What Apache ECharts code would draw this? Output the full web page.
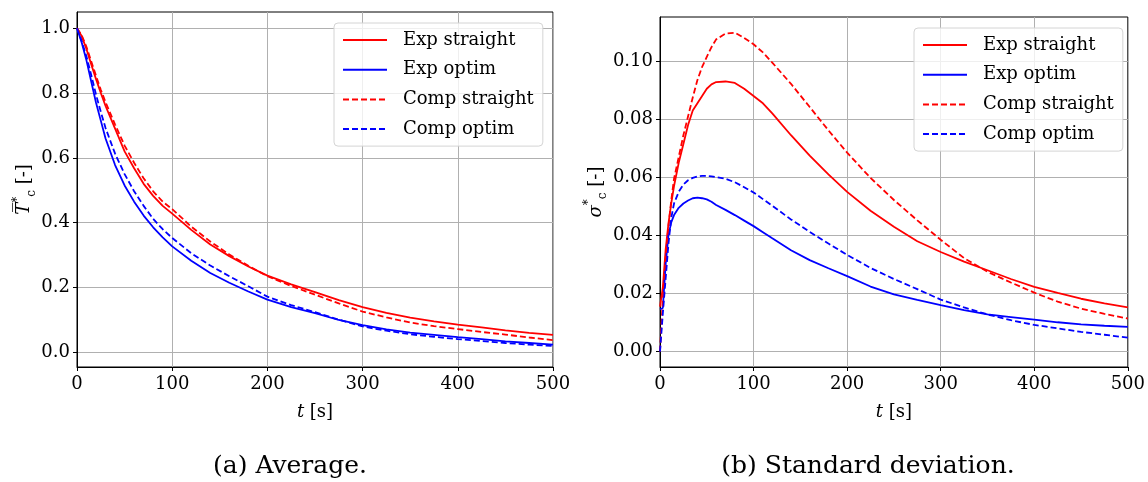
<!DOCTYPE html>
<html><head><meta charset="utf-8">
<script src="https://cdn.jsdelivr.net/npm/echarts@6/dist/echarts.min.js"></script>
<style>html,body{margin:0;padding:0;background:#fff}#c{width:1148px;height:482px}</style>
</head><body><div id="c"></div>
<script>
// ---- data ----
const seriesNames = ['Exp straight', 'Exp optim', 'Comp straight', 'Comp optim'];
const captions = ['(a) Average.', '(b) Standard deviation.'];
const xTicks = [0, 100, 200, 300, 400, 500];
const yTicksLeft = [0, 0.2, 0.4, 0.6, 0.8, 1.0];
const yTicksRight = [0, 0.02, 0.04, 0.06, 0.08, 0.10];

const tLeft = [0,5,10,15,20,25,30,40,50,60,70,80,90,100,120,140,160,180,200,225,250,275,300,325,350,375,400,425,450,475,500];
const avgExpStraight  = [1.0,0.975,0.935,0.888,0.843,0.8,0.76,0.69,0.62,0.568,0.52,0.483,0.452,0.428,0.378,0.333,0.297,0.265,0.237,0.21,0.186,0.161,0.14,0.122,0.107,0.096,0.086,0.077,0.068,0.06,0.054];
const avgExpOptim     = [1.0,0.955,0.9,0.835,0.77,0.715,0.66,0.578,0.515,0.465,0.422,0.386,0.355,0.327,0.283,0.245,0.215,0.188,0.163,0.14,0.121,0.1,0.084,0.071,0.061,0.054,0.047,0.041,0.034,0.029,0.024];
const avgCompStraight = [1.0,0.978,0.942,0.897,0.853,0.81,0.772,0.703,0.638,0.585,0.537,0.497,0.465,0.442,0.388,0.342,0.302,0.267,0.235,0.205,0.178,0.151,0.126,0.108,0.092,0.081,0.072,0.063,0.055,0.046,0.038];
const avgCompOptim    = [1.0,0.96,0.912,0.855,0.795,0.742,0.692,0.613,0.55,0.497,0.452,0.412,0.38,0.353,0.306,0.268,0.235,0.204,0.172,0.146,0.124,0.101,0.08,0.067,0.056,0.048,0.041,0.035,0.029,0.024,0.02];

const tRight = [0,3,6,9,12,15,20,25,30,35,40,45,50,55,60,70,80,90,100,110,120,140,160,180,200,225,250,275,300,325,350,375,400,425,450,475,500];
const stdExpStraight  = [0.0155,0.022,0.035,0.044,0.051,0.057,0.065,0.0715,0.078,0.083,0.0855,0.088,0.0905,0.092,0.0928,0.093,0.0925,0.0905,0.088,0.0855,0.082,0.0745,0.0675,0.061,0.055,0.0485,0.043,0.038,0.0343,0.031,0.028,0.025,0.0223,0.0202,0.0182,0.0166,0.0152];
const stdExpOptim     = [0.0145,0.015,0.03,0.04,0.0445,0.047,0.0495,0.051,0.052,0.0528,0.053,0.0528,0.0524,0.0516,0.0505,0.0488,0.047,0.0451,0.0432,0.0411,0.039,0.0349,0.0315,0.0287,0.026,0.0224,0.0197,0.0178,0.016,0.0143,0.0128,0.0119,0.011,0.0101,0.0094,0.0089,0.0085];
const stdCompStraight = [0,0.018,0.032,0.043,0.052,0.0595,0.067,0.0745,0.081,0.0875,0.0935,0.098,0.1015,0.1048,0.1075,0.1095,0.1098,0.108,0.1058,0.103,0.0995,0.0922,0.0842,0.0762,0.0685,0.0598,0.0522,0.0452,0.0385,0.0322,0.0275,0.0238,0.0203,0.0172,0.0148,0.013,0.0114];
const stdCompOptim    = [0,0.013,0.025,0.037,0.046,0.051,0.055,0.0575,0.059,0.0598,0.0603,0.0605,0.0605,0.0603,0.0601,0.0595,0.0583,0.0566,0.0548,0.0525,0.0502,0.0455,0.0412,0.0372,0.0333,0.0288,0.025,0.0215,0.0179,0.0152,0.0128,0.0108,0.0092,0.008,0.0068,0.0058,0.0048];

// ---- styling ----
const FONT = 'DejaVu Serif';
const FS = 18;
const RED = '#ff0000', BLUE = '#0000ff';
const styles = [
  {color: RED, type: 'solid'},
  {color: BLUE, type: 'solid'},
  {color: RED, type: [6, 3]},
  {color: BLUE, type: [6, 3]}
];
const zip = (t, v) => t.map((x, i) => [x, v[i]]);

function mkSeries(gi, t, arrs) {
  return arrs.map((a, k) => ({
    name: seriesNames[k], type: 'line', xAxisIndex: gi, yAxisIndex: gi,
    data: zip(t, a), symbol: 'none', showSymbol: false, clip: true,
    lineStyle: {color: styles[k].color, width: 1.8, type: styles[k].type},
    itemStyle: {color: styles[k].color}, animation: false, z: 3 + k
  }));
}
function xAx(gi) {
  return {
    type: 'value', gridIndex: gi, min: 0, max: 500, interval: 100,
    axisLine: {show: true, onZero: false, lineStyle: {color: '#000', width: 1}},
    axisTick: {show: true, length: 4, lineStyle: {color: '#000'}},
    axisLabel: {color: '#000', fontFamily: FONT, fontSize: FS, margin: 8},
    splitLine: {show: true, lineStyle: {color: '#b0b0b0', width: 1}},
    name: '{i|t} [s]', nameLocation: 'middle', nameGap: 36,
    nameTextStyle: {color: '#000', fontFamily: FONT, fontSize: FS,
      rich: {i: {fontStyle: 'italic', fontFamily: FONT, fontSize: FS, color: '#000'}}}
  };
}
function yAx(gi, min, max, ticks, dec, name, gap) {
  return {
    type: 'value', gridIndex: gi, min: min, max: max,
    axisLine: {show: true, onZero: false, lineStyle: {color: '#000', width: 1}},
    axisTick: {show: true, length: 4, lineStyle: {color: '#000'}, customValues: ticks},
    axisLabel: {color: '#000', fontFamily: FONT, fontSize: FS, margin: 7, customValues: ticks,
      formatter: v => Number(v).toFixed(dec)},
    splitLine: {show: true, lineStyle: {color: '#b0b0b0', width: 1}},
    name: name, nameLocation: 'middle', nameRotate: 90, nameGap: gap,
    nameTextStyle: {color: '#000', fontFamily: FONT, fontSize: FS, lineHeight: 26,
      rich: {
        it: {fontStyle: 'italic', fontFamily: FONT, fontSize: FS, color: '#000', lineHeight: 26},
        sup: {fontFamily: FONT, fontSize: 12, color: '#000', lineHeight: 26, verticalAlign: 'top', padding: [0,0,6,0]},
        sub: {fontFamily: FONT, fontSize: 12, color: '#000', lineHeight: 26, verticalAlign: 'bottom'},
        n: {fontFamily: FONT, fontSize: FS, color: '#000', lineHeight: 26}
      }}
  };
}
function legendAt(left, top) {
  return {
    left: left, top: top, orient: 'vertical', data: seriesNames,
    itemWidth: 44, itemHeight: 12, itemGap: 9.7,
    padding: [7, 9, 7, 8],
    itemStyle: {opacity: 0},
    backgroundColor: 'rgba(255,255,255,0.8)', borderColor: '#d4d4d4', borderWidth: 1, borderRadius: 4,
    textStyle: {color: '#000', fontFamily: FONT, fontSize: FS, lineHeight: 20, padding: [0, 0, 0, 11]},
    selectedMode: false, z: 10
  };
}

const chart = echarts.init(document.getElementById('c'), null, {renderer: 'canvas'});
chart.setOption({
  animation: false,
  backgroundColor: '#fff',
  grid: [
    {left: 77, top: 12, width: 476, height: 355, show: true, borderColor: '#000', borderWidth: 1, backgroundColor: 'transparent'},
    {left: 660, top: 17, width: 471, height: 350, show: true, borderColor: '#000', borderWidth: 1, backgroundColor: 'transparent'}
  ],
  xAxis: [xAx(0), xAx(1)],
  yAxis: [
    yAx(0, -0.045, 1.05, yTicksLeft, 1, '{it|T\u0305}{sup|*}{sub|c} {n|[-]}', 37),
    yAx(1, -0.0053, 0.1152, yTicksRight, 2, '{it|\u03c3}{sup|*}{sub|c} {n|[-]}', 38)
  ],
  legend: [legendAt(334, 23), legendAt(914, 28)],
  series: [].concat(
    mkSeries(0, tLeft, [avgExpStraight, avgExpOptim, avgCompStraight, avgCompOptim]),
    mkSeries(1, tRight, [stdExpStraight, stdExpOptim, stdCompStraight, stdCompOptim])
  ),
  graphic: [
    {type: 'text', x: 290, y: 466, style: {text: captions[0], fill: '#000', font: '25px "DejaVu Serif"', align: 'center', verticalAlign: 'middle', textAlign: 'center', textVerticalAlign: 'middle'}},
    {type: 'text', x: 868, y: 466, style: {text: captions[1], fill: '#000', font: '25px "DejaVu Serif"', align: 'center', verticalAlign: 'middle', textAlign: 'center', textVerticalAlign: 'middle'}}
  ]
});
</script></body></html>
